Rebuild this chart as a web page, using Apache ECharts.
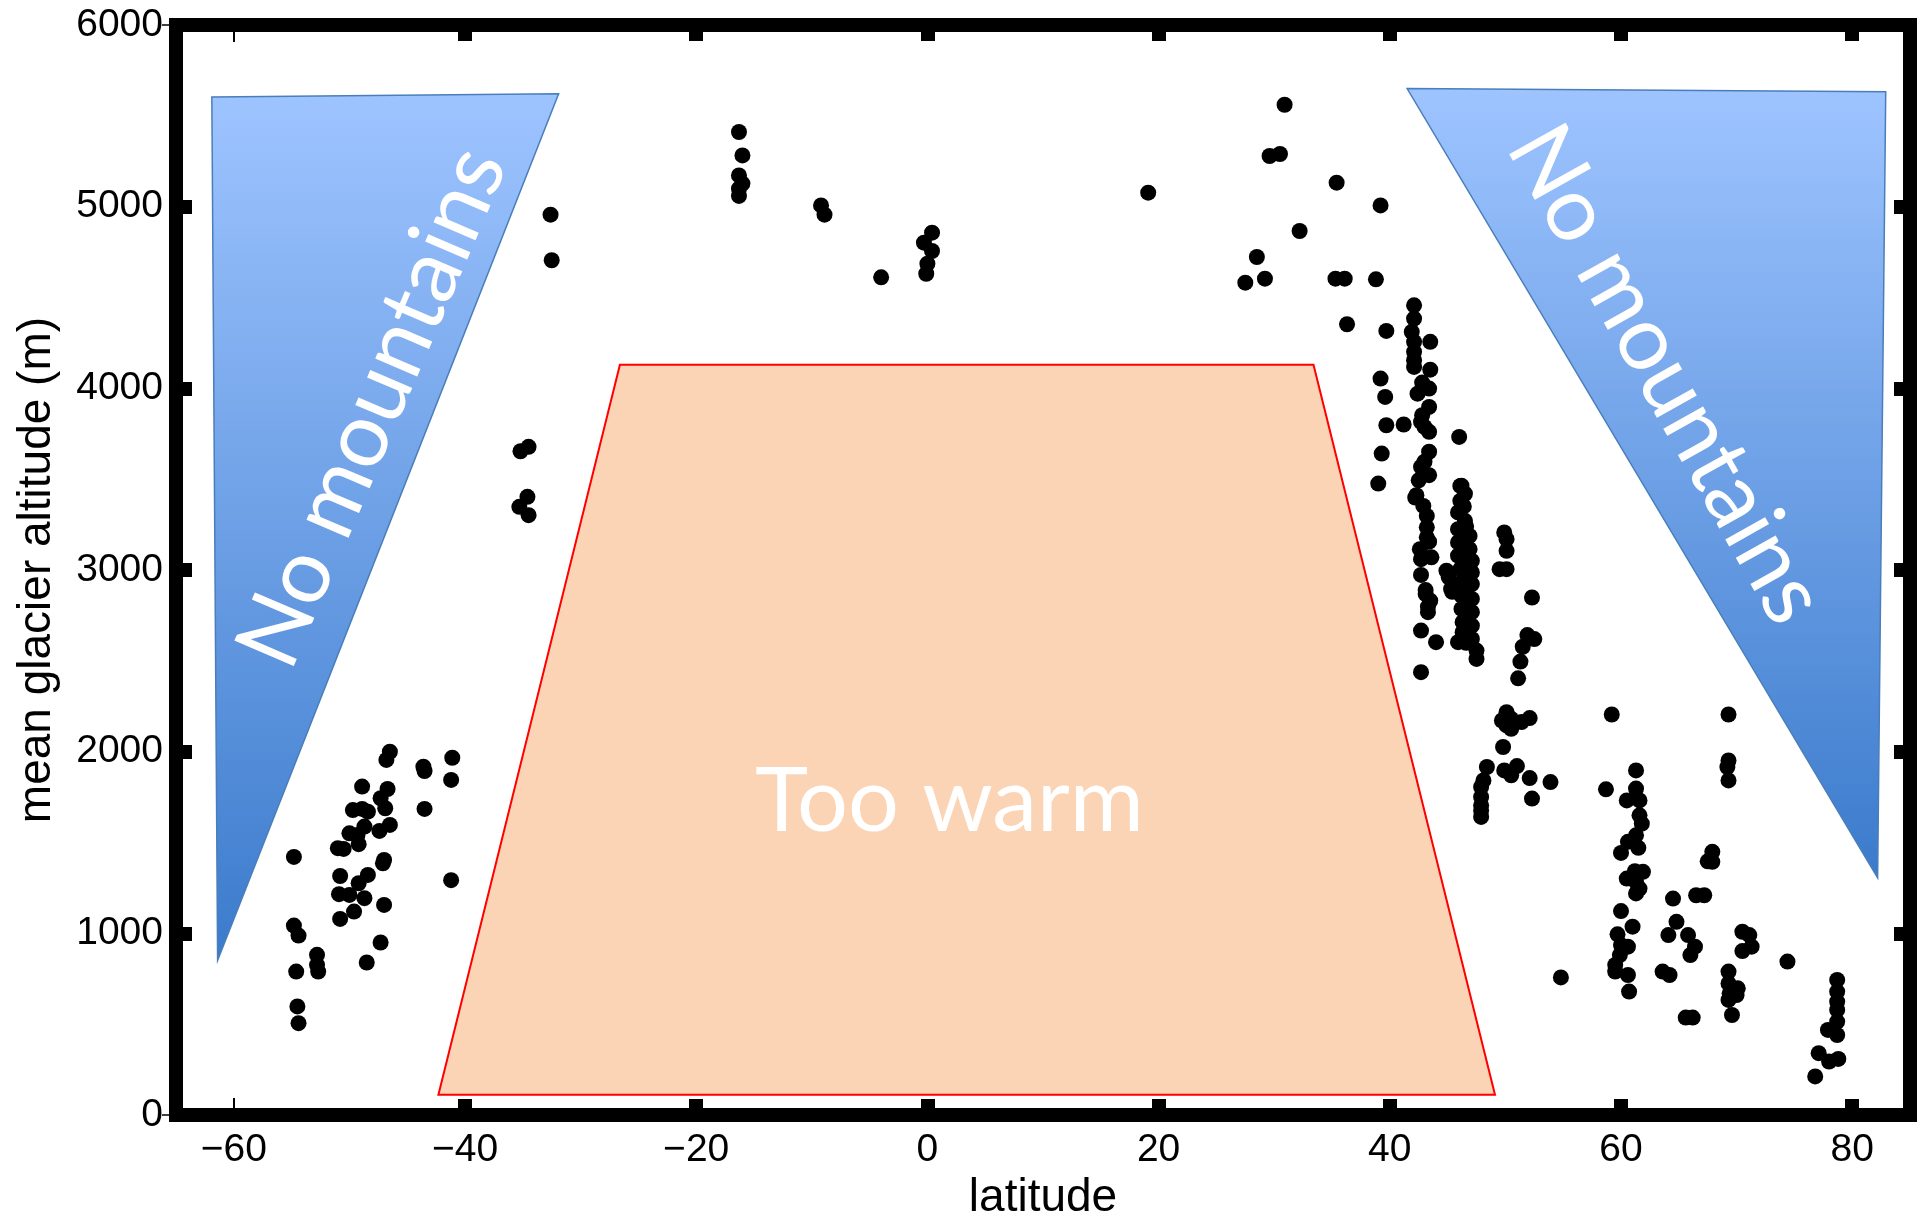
<!DOCTYPE html>
<html>
<head>
<meta charset="utf-8">
<script src="https://cdn.jsdelivr.net/npm/echarts@6/dist/echarts.min.js"></script>
<style>
	html, body { margin: 0; padding: 0; background: #fff; }
	#glaciers { width: 1921px; height: 1226px; }
</style>
</head>
<body>
<div id="glaciers"></div>
<script>
// latitude (deg), mean glacier altitude (m)
var patagonia = [
	[-46.5, 2000], [-46.8, 1955], [-43.6, 1918], [-43.5, 1894], [-41.1, 1967], [-41.2, 1845],
	[-48.9, 1808], [-46.7, 1795], [-47.3, 1744], [-46.9, 1689], [-43.5, 1685], [-49.7, 1679],
	[-48.9, 1685], [-48.4, 1670], [-46.5, 1597], [-47.4, 1564], [-48.7, 1588], [-50.0, 1551],
	[-49.3, 1542], [-49.2, 1491], [-51.0, 1469], [-50.5, 1465], [-54.8, 1421], [-47.0, 1404],
	[-47.1, 1386], [-50.8, 1316], [-48.4, 1322], [-49.2, 1276], [-41.2, 1293], [-50.9, 1216],
	[-50.0, 1212], [-48.7, 1194], [-47.0, 1157], [-49.6, 1120], [-50.8, 1080], [-54.8, 1043],
	[-54.4, 988], [-52.8, 882], [-52.8, 827], [-52.7, 790], [-54.6, 790], [-47.3, 950],
	[-48.5, 840], [-54.5, 598], [-54.4, 506]
];
var tropicalAndes = [
	[-32.6, 4956], [-32.5, 4705], [-16.3, 5411], [-16.0, 5282], [-16.3, 5172], [-16.0, 5127],
	[-16.3, 5099], [-16.3, 5059], [-9.2, 5007], [-8.9, 4956], [-4.0, 4611], [0.4, 4857],
	[-0.3, 4802], [0.4, 4756], [0.0, 4686], [-0.1, 4631], [-34.5, 3678], [-35.2, 3654],
	[-34.6, 3403], [-35.3, 3348], [-34.5, 3302]
];
var asia = [
	[30.9, 5561], [29.6, 5279], [30.5, 5290], [19.1, 5077], [35.4, 5132], [39.2, 5007],
	[32.2, 4866], [28.5, 4723], [29.2, 4604], [27.5, 4582], [35.3, 4604], [36.1, 4604],
	[38.8, 4600], [36.3, 4353], [39.7, 4316], [39.2, 4054], [39.6, 3953], [39.7, 3797],
	[41.2, 3801], [39.3, 3641], [39.0, 3476]
];
var midLatitudes = [
	[42.1, 4457], [42.1, 4384], [41.9, 4311], [42.1, 4256], [42.1, 4201], [42.1, 4155],
	[42.1, 4118], [43.5, 4256], [43.5, 4103], [43.4, 3999], [42.8, 4032], [42.4, 3971],
	[43.4, 3898], [42.8, 3852], [42.7, 3816], [43.4, 3761], [43.0, 3788], [46.0, 3733],
	[43.4, 3651], [43.0, 3596], [42.7, 3568], [43.4, 3522], [42.5, 3494], [46.2, 3464],
	[42.3, 3412], [42.2, 3399], [42.9, 3353], [43.2, 3298], [43.2, 3235], [43.4, 3156],
	[43.2, 3180], [42.6, 3115], [43.6, 3070], [42.7, 3060], [42.7, 2973], [43.1, 2890],
	[43.1, 2868], [43.5, 2831], [43.3, 2798], [43.3, 2768], [42.7, 2667], [44.0, 2603],
	[42.7, 2438]
];
var alps = [
	[46.1, 3463], [46.1, 3381], [45.9, 3317], [46.5, 3271], [45.9, 3225], [46.9, 3188],
	[45.9, 3152], [46.9, 3115], [45.9, 3079], [47.1, 3051], [44.9, 2996], [46.1, 3005],
	[47.1, 2987], [45.3, 2896], [46.2, 2932], [47.1, 2923], [46.2, 2859], [47.1, 2841],
	[46.2, 2786], [47.1, 2768], [46.3, 2713], [47.1, 2694], [46.3, 2658], [45.9, 2603],
	[47.1, 2621], [47.5, 2557], [47.5, 2511], [46.5, 3420], [46.4, 3350], [46.6, 3240],
	[46.5, 3160], [46.6, 3090], [46.5, 3030], [46.6, 2960], [46.6, 2880], [46.6, 2820],
	[46.6, 2740], [46.7, 2680], [46.6, 2600], [45.1, 2960], [45.4, 2880]
];
var northern = [
	[49.9, 3207], [50.1, 3170], [50.1, 3106], [49.5, 3005], [50.1, 3005], [52.3, 2849],
	[51.9, 2642], [52.5, 2620], [51.5, 2578], [51.3, 2496], [51.1, 2404],
	[50.1, 2218], [50.5, 2181], [49.7, 2172], [50.1, 2145], [50.5, 2126], [51.4, 2163],
	[52.1, 2185], [49.8, 2026], [48.4, 1916], [49.9, 1897], [51.0, 1921], [50.5, 1870],
	[52.1, 1855], [53.9, 1833], [52.3, 1742], [48.1, 1842], [47.9, 1806], [47.9, 1751],
	[47.9, 1705], [47.9, 1677], [47.9, 1641]
];
var arctic = [
	[59.2, 2205], [69.3, 2205], [69.3, 1952], [69.2, 1916], [69.3, 1842], [58.7, 1793],
	[61.3, 1897], [61.3, 1797], [60.5, 1732], [61.6, 1732], [61.6, 1650], [61.8, 1604],
	[61.3, 1540], [60.6, 1504], [61.5, 1471], [60.0, 1443], [67.9, 1449], [67.5, 1397],
	[67.9, 1394], [61.2, 1342], [61.9, 1339], [60.5, 1302], [61.3, 1284], [61.6, 1247],
	[61.3, 1220], [64.5, 1192], [66.5, 1210], [67.2, 1210], [60.0, 1123], [61.0, 1037],
	[64.8, 1064], [64.1, 991], [65.8, 991], [66.4, 927], [66.0, 881], [59.7, 995],
	[60.0, 936], [60.6, 927], [59.9, 881], [59.5, 826], [59.5, 790], [60.6, 771],
	[60.7, 680], [54.8, 758], [63.6, 790], [64.2, 771], [65.6, 537], [66.2, 537],
	[69.3, 790], [69.3, 725], [70.1, 698], [69.4, 670], [70.0, 661], [69.3, 634],
	[69.6, 551], [70.5, 1009], [71.1, 991], [71.3, 927], [70.5, 903], [74.4, 845],
	[78.7, 744], [78.7, 680], [78.7, 625], [78.7, 579], [78.7, 515], [77.9, 469],
	[78.7, 441], [77.1, 341], [78.0, 295], [78.8, 309], [76.8, 213]
];

// annotation shapes, in data coordinates
var noMountainsSouth = [[-61.9, 5604], [-31.9, 5621], [-61.4, 852]];
var noMountainsNorth = [[41.5, 5650], [82.9, 5632], [82.2, 1306]];
var tooWarm = [[-42.3, 112], [-26.6, 4130], [33.4, 4130], [49.1, 112]];
var annotations = [
	{ text: 'No mountains', at: [-48.0, 3896], angle: 66.9 },
	{ text: 'No mountains', at: [63.9, 4077], angle: -60.7 },
	{ text: 'Too warm', at: [1.9, 1725], angle: 0 }
];

var xLabelValues = [-60, -40, -20, 0, 20, 40, 60, 80];
var xThickTicks = [-40, -20, 0, 20, 40, 60, 80];
var xThinTicks = [-60];
var yOuterTicks = [0, 6000];
</script>
<script>
var chart = echarts.init(document.getElementById('glaciers'), null, { renderer: 'canvas' });

function blueFill() {
	return new echarts.graphic.LinearGradient(0, 0, 0, 1, [
		{ offset: 0, color: '#9EC4FF' },
		{ offset: 1, color: '#3B7BCC' }
	]);
}
var shapes = [
	{ pts: noMountainsSouth, fill: blueFill(), stroke: '#4A7EBB', width: 1.5 },
	{ pts: noMountainsNorth, fill: blueFill(), stroke: '#4A7EBB', width: 1.5 },
	{ pts: tooWarm, fill: '#FAD4B5', stroke: '#FF0000', width: 2 }
];

var font = 'Liberation Sans, Arial, Helvetica, sans-serif';
var frameLine = { onZero: false, lineStyle: { color: '#000', width: 14, cap: 'square' } };
var noLine = { show: false, onZero: false };
var thickTick = { inside: true, length: 16, lineStyle: { color: '#000', width: 14 } };

function minus(v) {
	return String(v).replace('-', '\u2212');
}

var points = [].concat(patagonia, tropicalAndes, asia, midLatitudes, alps, northern, arctic);

var option = {
	animation: false,
	backgroundColor: '#fff',
	grid: { left: 176, right: 11, top: 25, bottom: 109 },
	xAxis: [{
		type: 'value', position: 'bottom', min: -65, max: 85,
		axisLine: frameLine,
		axisTick: { inside: true, length: 16, lineStyle: { color: '#000', width: 14 }, customValues: xThickTicks },
		axisLabel: { customValues: xLabelValues, formatter: minus, fontSize: 39, fontFamily: font, color: '#000', margin: 16 },
		splitLine: { show: false },
		name: 'latitude', nameLocation: 'middle', nameGap: 58,
		nameTextStyle: { fontSize: 46, fontFamily: font, color: '#000' }
	}, {
		type: 'value', position: 'top', min: -65, max: 85,
		axisLine: frameLine,
		axisTick: { inside: true, length: 16, lineStyle: { color: '#000', width: 14 }, customValues: xThickTicks },
		axisLabel: { show: false },
		splitLine: { show: false }
	}, {
		type: 'value', position: 'bottom', min: -65, max: 85,
		axisLine: noLine,
		axisTick: { inside: true, length: 17, lineStyle: { color: '#000', width: 2 }, customValues: xThinTicks },
		axisLabel: { show: false },
		splitLine: { show: false }
	}, {
		type: 'value', position: 'top', min: -65, max: 85,
		axisLine: noLine,
		axisTick: { inside: true, length: 17, lineStyle: { color: '#000', width: 2 }, customValues: xThinTicks },
		axisLabel: { show: false },
		splitLine: { show: false }
	}],
	yAxis: [{
		type: 'value', position: 'left', min: 0, max: 6000, interval: 1000,
		axisLine: frameLine,
		axisTick: thickTick,
		axisLabel: { formatter: function(v) { return String(v); }, fontSize: 39, fontFamily: font, color: '#000', margin: 13 },
		splitLine: { show: false },
		name: 'mean glacier altitude (m)', nameLocation: 'middle', nameGap: 116,
		nameTextStyle: { fontSize: 46, fontFamily: font, color: '#000' }
	}, {
		type: 'value', position: 'right', min: 0, max: 6000, interval: 1000,
		axisLine: frameLine,
		axisTick: thickTick,
		axisLabel: { show: false },
		splitLine: { show: false }
	}, {
		type: 'value', position: 'left', min: 0, max: 6000,
		axisLine: noLine,
		axisTick: { inside: false, length: 14, lineStyle: { color: '#000', width: 1.5 }, customValues: yOuterTicks },
		axisLabel: { show: false },
		splitLine: { show: false }
	}],
	series: [{
		type: 'custom',
		z: 1,
		silent: true,
		data: shapes.map(function(s) { return s.pts[0]; }),
		renderItem: function(params, api) {
			var s = shapes[params.dataIndex];
			return {
				type: 'polygon',
				shape: { points: s.pts.map(function(p) { return api.coord(p); }) },
				style: { fill: s.fill, stroke: s.stroke, lineWidth: s.width }
			};
		}
	}, {
		type: 'custom',
		z: 2,
		silent: true,
		data: annotations.map(function(a) { return a.at; }),
		renderItem: function(params, api) {
			var a = annotations[params.dataIndex];
			var c = api.coord(a.at);
			return {
				type: 'text',
				x: c[0], y: c[1],
				rotation: a.angle * Math.PI / 180,
				style: {
					text: a.text, fill: '#fff', align: 'center', verticalAlign: 'middle',
					font: '90px Lato, "Open Sans", sans-serif'
				}
			};
		}
	}, {
		type: 'scatter',
		z: 3,
		symbolSize: 16,
		itemStyle: { color: '#000', opacity: 1 },
		data: points
	}]
};
chart.setOption(option);
</script>
</body>
</html>
